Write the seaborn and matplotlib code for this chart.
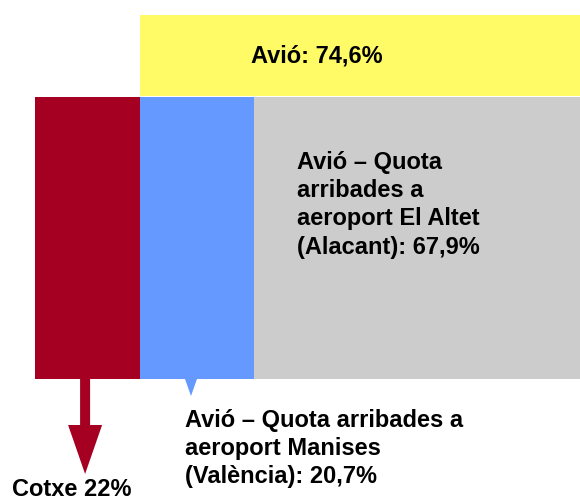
import matplotlib
matplotlib.use("Agg")
import matplotlib.pyplot as plt
import seaborn as sns
from matplotlib.patches import FancyArrow, Polygon

# ---- data ----
segments = ["Cotxe", "Avió – Manises", "Avió – El Altet"]
shares = [19.3, 20.9, 59.8]          # relative widths of the bottom blocks
labels = ["Cotxe 22%",
          "Avió – Quota arribades a\naeroport Manises\n(València): 20,7%",
          "Avió – Quota\narribades a\naeroport El Altet\n(Alacant): 67,9%"]
plane_label = "Avió: 74,6%"
colors = ["#A50021", "#6699FF", "#CCCCCC"]
plane_color = "#FFFB66"

sns.set_theme(style="white")
plt.rcParams["font.family"] = ["Liberation Sans", "DejaVu Sans"]

fig = plt.figure(figsize=(5.8, 5.0), dpi=100)
ax = fig.add_axes([0, 0, 1, 1])
px = 100 / 545.0                        # share units per pixel
ax.set_xlim(-35 * px, 100)
ax.set_ylim(500, 0)
ax.set_axis_off()

# bottom blocks
lefts = [sum(shares[:i]) for i in range(len(shares))]
ax.bar(lefts, [282] * len(shares), width=shares, bottom=97, align="edge",
       color=colors, linewidth=0)

# top block (plane) spans the two plane blocks
plane_left = lefts[1]
plane_width = shares[1] + shares[2]
ax.bar([plane_left], [81], width=[plane_width], bottom=15, align="edge",
       color=plane_color, linewidth=0)

# arrow from car block
cx = lefts[0] + shares[0] / 2 - 2.5 * px
ax.add_patch(FancyArrow(cx, 379, 0, 95, width=10 * px, head_width=34 * px,
                        head_length=49, length_includes_head=True,
                        color=colors[0], linewidth=0))
# small pointer under blue block
bx = (191 - 35) * px
ax.add_patch(Polygon([(bx - 6 * px, 379), (bx + 6 * px, 379), (bx, 396)],
                     closed=True, color=colors[1], linewidth=0))

fs = 17
ax.text((251 - 35) * px, 62, plane_label, fontsize=fs, fontweight="bold",
        ha="left", va="baseline", color="black")
ax.text((297 - 35) * px, 151, labels[2], fontsize=fs, fontweight="bold",
        ha="left", va="top", color="black", linespacing=1.29)
ax.text((185 - 35) * px, 409, labels[1], fontsize=fs, fontweight="bold",
        ha="left", va="top", color="black", linespacing=1.27)
ax.text((12 - 35) * px, 496, labels[0], fontsize=fs, fontweight="bold",
        ha="left", va="baseline", color="black")

fig.savefig("out.png", dpi=100)
